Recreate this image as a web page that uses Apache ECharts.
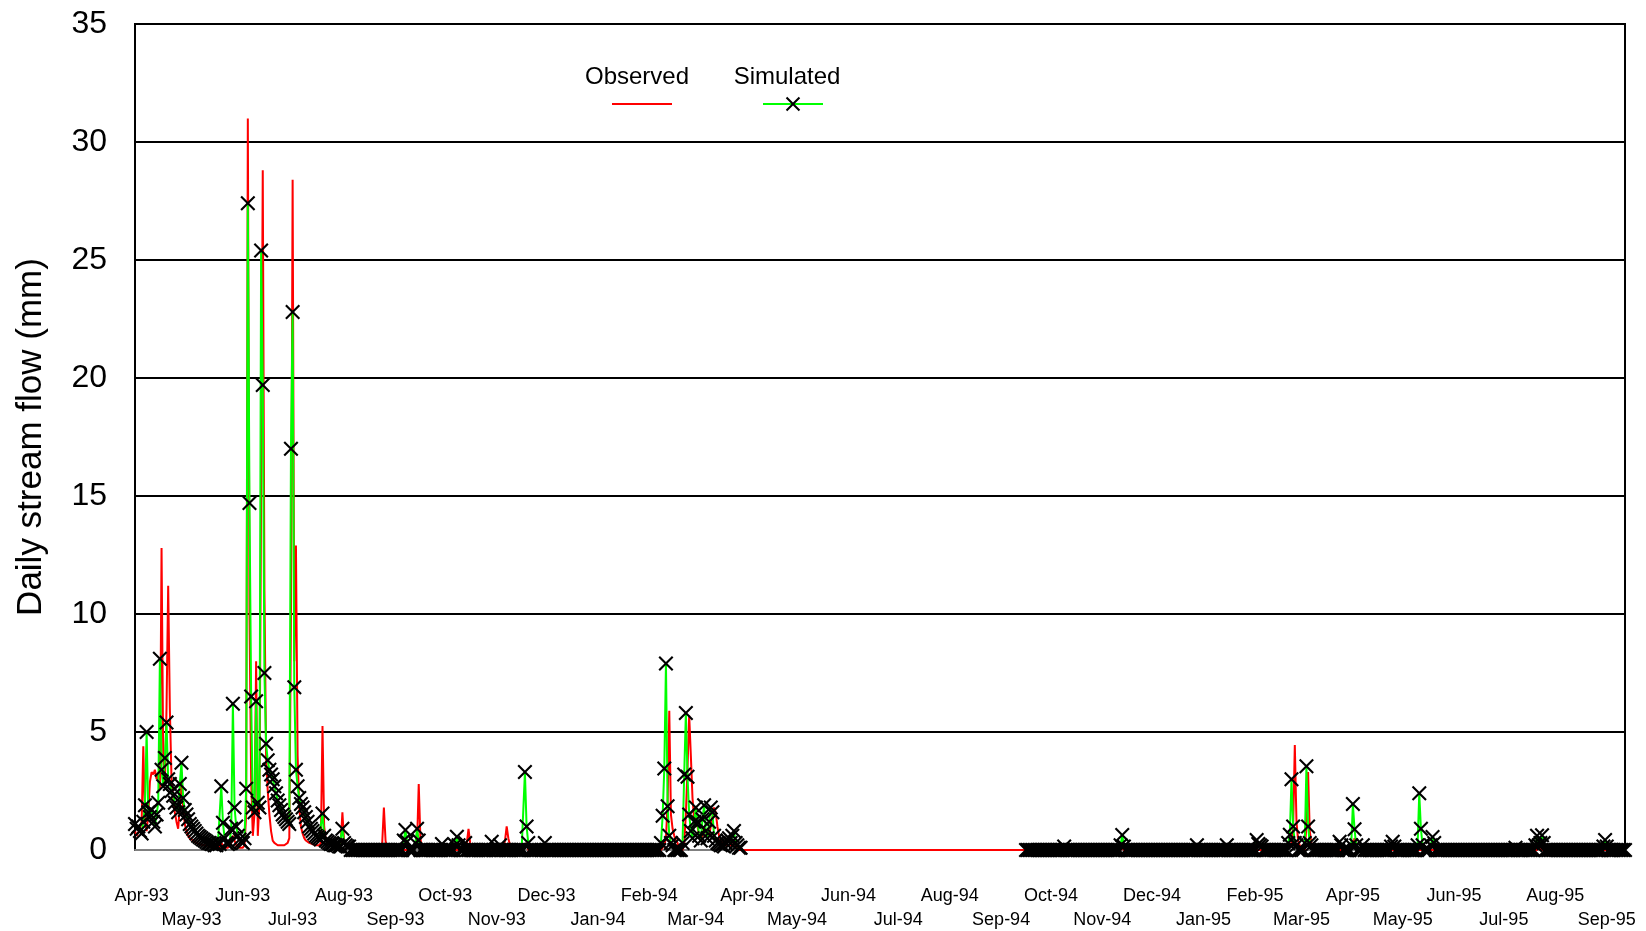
<!DOCTYPE html>
<html>
	<head>
		<meta http-equiv="Content-Type" content="text/html; charset=utf-8" />
		<title>Daily stream flow</title>
		<style>
			html, body { margin: 0; padding: 0; background: #fff; }
			#main { width: 1646px; height: 931px; }
		</style>
	</head>
	<body>
		<div id="main"></div>
		<script src="https://cdn.jsdelivr.net/npm/echarts/dist/echarts.min.js"></script>
		<script>
			//axis range (daily)
			var startDay = '1993-03-28';
			var endDay = '1995-09-12';
			var monthNames = ['Jan', 'Feb', 'Mar', 'Apr', 'May', 'Jun', 'Jul', 'Aug', 'Sep', 'Oct', 'Nov', 'Dec'];
			var yTicks = [0, 5, 10, 15, 20, 25, 30, 35];

			//days the model was run, outside of these there is no simulated value
			var simPeriods = [['1993-03-28', '1994-03-28'], ['1994-09-16', '1995-09-12']];

			//observed flow (mm), runs of daily values; days not listed read as 0
			var obsRuns = [
				['1993-03-28', [0.8, 0.6, 0.6, 0.9, 1.2, 4.4, 1.2, 0.8, 1.5, 2.9,
					3.3, 3.2, 3.4, 3.0, 3.2, 2.6, 12.8, 4.0, 2.8, 6.0,
					11.2, 6.0, 3.0, 2.2, 1.6, 1.2, 0.9, 1.8, 3.3, 1.8,
					1.1, 0.8, 0.6, 0.5, 0.45, 0.4, 0.35, 0.3, 0.3, 0.25,
					0.25, 0.2, 0.2, 0.2, 0.15, 0.15, 0.15, 0.1, 0.1, 0.1,
					0.1, 0.1, 0.3, 0.2, 0.1, 0.1, 0.1, 0.1, 0.3, 0.6,
					0.4, 0.2, 0.15, 0.1, 0.1, 0.1, 0.2, 1.5, 31.0, 10.0,
					3.0, 0.6, 1.5, 8.0, 0.6, 2.0, 15.0, 28.8, 11.0, 4.0,
					2.5, 1.5, 0.8, 0.4, 0.3, 0.25, 0.2, 0.2, 0.2, 0.2,
					0.2, 0.2, 0.3, 0.5, 10.0, 28.4, 8.0, 12.9, 4.0, 1.8,
					1.0, 0.7, 0.5, 0.4, 0.35, 0.3, 0.3, 0.25, 0.25, 0.2,
					0.2, 0.2, 0.3, 5.25, 1.0, 0.4, 0.3, 0.25, 0.2, 0.2,
					0.2, 0.15, 0.15, 0.15, 0.3, 1.6, 0.4, 0.2, 0.15, 0.1]],
				['1993-08-24', [0.3, 1.8, 0.4]],
				['1993-09-14', [0.3, 2.8, 0.5]],
				['1993-10-14', [0.3, 0.9, 0.3]],
				['1993-11-06', [0.4, 1.0, 0.5, 0.2]],
				['1993-11-18', [0.2, 0.3]],
				['1994-02-10', [0.2, 0.5, 2.0, 5.9, 1.5, 0.9, 0.6, 0.4, 0.3]],
				['1994-02-22', [0.3, 1.5, 3.5, 5.7, 4.0, 2.2, 1.3, 1.5, 1.0, 0.6,
					0.5, 0.6, 1.0, 0.8, 0.5, 0.6, 1.0, 1.4, 1.8, 1.6,
					1.0, 0.6, 0.4, 0.3, 0.25, 0.2, 0.2, 0.2, 0.2, 0.2,
					0.3, 0.2, 0.1]],
				['1994-11-13', [0.1]],
				['1995-02-21', [0.1, 0.1, 0.3, 1.0, 4.45, 1.2, 0.4, 0.2]],
				['1995-03-04', [1.0, 3.3, 0.8, 0.3]],
				['1995-04-01', [0.2, 0.5, 0.3]],
				['1995-07-22', [0.2]]
			];

			//simulated flow (mm), runs of daily values; other modelled days read as 0
			var simRuns = [
				['1993-03-28', [1.1, 0.9, 1.0, 0.8, 0.7, 1.2, 1.9, 5.0, 1.6, 1.4,
					1.7, 1.2, 1.0, 1.5, 2.0, 8.1, 3.4, 2.7, 3.9, 5.4,
					3.0, 2.8, 2.5, 2.3, 2.0, 1.8, 1.6, 2.8, 3.7, 2.2,
					1.7, 1.5, 1.3, 1.1, 1.0, 0.9, 0.8, 0.7, 0.6, 0.55,
					0.5, 0.45, 0.4, 0.35, 0.3, 0.3, 0.25, 0.25, 0.2, 0.2,
					0.3, 0.25, 2.7, 1.15, 0.5, 0.3, 0.25, 0.3, 0.9, 6.2,
					1.8, 1.0, 0.6, 0.45, 0.35, 0.3, 0.5, 2.6, 27.4, 14.7,
					6.5, 1.8, 1.6, 6.3, 2.0, 1.8, 25.4, 19.7, 7.5, 4.5,
					3.8, 3.4, 3.2, 3.0, 2.7, 2.4, 2.1, 1.9, 1.7, 1.5,
					1.4, 1.3, 1.2, 1.1, 17.0, 22.8, 6.9, 3.4, 2.7, 2.2,
					1.95, 1.8, 1.6, 1.4, 1.2, 1.0, 0.9, 0.8, 0.7, 0.6,
					0.55, 0.5, 0.45, 1.55, 0.6, 0.4, 0.35, 0.3, 0.25, 0.25,
					0.2, 0.2, 0.2, 0.15, 0.15, 0.9, 0.3, 0.2, 0.15, 0.15]],
				['1993-09-06', [0.4, 0.85, 0.35]],
				['1993-09-13', [0.3, 0.9, 0.4]],
				['1993-09-29', [0.25]],
				['1993-10-07', [0.2, 0.56, 0.2]],
				['1993-10-13', [0.3]],
				['1993-10-29', [0.35]],
				['1993-11-03', [0.2]],
				['1993-11-18', [3.3, 1.0, 0.3]],
				['1993-11-30', [0.3]],
				['1994-02-08', [0.3, 1.45, 3.45, 7.9, 1.85, 0.6, 0.3, 0.2]],
				['1994-02-21', [0.3, 3.2, 5.8, 3.1, 1.5, 0.8, 0.5, 1.2, 1.8, 1.2,
					0.6, 0.4, 1.3, 1.9, 0.8, 0.5, 1.2, 1.8, 1.6, 0.6,
					0.4, 0.3, 0.25, 0.2, 0.2, 0.15, 0.3, 0.4, 0.5, 0.3,
					0.6, 0.8, 0.3, 0.2, 0.1, 0.1]],
				['1994-10-09', [0.15]],
				['1994-11-12', [0.2, 0.64, 0.15]],
				['1994-12-28', [0.2]],
				['1995-01-15', [0.2]],
				['1995-02-02', [0.42, 0.25, 0.2, 0.15]],
				['1995-02-21', [0.3, 0.65, 3.0, 1.0, 0.3, 0.2]],
				['1995-03-03', [0.3, 3.55, 1.0, 0.3, 0.2]],
				['1995-03-24', [0.35, 0.2]],
				['1995-03-31', [0.2, 1.95, 0.88, 0.2]],
				['1995-04-07', [0.2]],
				['1995-04-24', [0.15, 0.35, 0.15]],
				['1995-05-10', [0.2, 2.4, 0.9, 0.2]],
				['1995-05-18', [0.2, 0.55, 0.3]],
				['1995-07-08', [0.1]],
				['1995-07-20', [0.2, 0.6, 0.2, 0.3, 0.63, 0.3]],
				['1995-08-30', [0.15, 0.42, 0.15]]
			];

			function dayIndex(s) {
				return Math.round((Date.parse(s) - Date.parse(startDay)) / 86400000);
			}

			//daily categories
			var days = [];
			for(var i = 0; i <= dayIndex(endDay); i++) {
				days.push(new Date(Date.parse(startDay) + i * 86400000).toISOString().slice(0, 10));
			}

			var observed = days.map(function() { return 0; });
			obsRuns.forEach(function(r) {
				var s = dayIndex(r[0]);
				r[1].forEach(function(v, k) { observed[s + k] = v; });
			});

			var simulated = days.map(function(d, i) {
				var inside = simPeriods.some(function(p) {
					return i >= dayIndex(p[0]) && i <= dayIndex(p[1]);
				});
				return inside ? 0 : null;
			});
			simRuns.forEach(function(r) {
				var s = dayIndex(r[0]);
				r[1].forEach(function(v, k) { simulated[s + k] = v; });
			});

			//month number counted from Apr-93, even months on the first label row
			function monthCount(value) {
				return (+value.slice(0, 4) - 1993) * 12 + (+value.slice(5, 7) - 4);
			}
			function monthLabel(value) {
				return monthNames[+value.slice(5, 7) - 1] + '-' + value.slice(2, 4);
			}
			function labelRow(row, margin) {
				return {
					fontSize: 18, margin: margin, color: '#000',
					showMinLabel: true, showMaxLabel: true,
					interval: function(index, value) {
						return value.slice(8) === '01' && monthCount(value) % 2 === row;
					},
					formatter: monthLabel
				};
			}

			var crossPath = 'path://M0,1L1,0L5,4L9,0L10,1L6,5L10,9L9,10L5,6L1,10L0,9L4,5Z';
			var fontName = 'Liberation Sans, Arial, sans-serif';

			var myChart = echarts.init(document.getElementById('main'));
			var option = {
				animation: false,
				backgroundColor: '#fff',
				textStyle: { fontFamily: fontName, color: '#000' },
				grid: {
					left: 135, right: 21, top: 24, bottom: 81,
					show: true, borderColor: '#000', borderWidth: 2
				},
				legend: [{
					data: [{ name: 'Observed', icon: 'rect' }], left: 612, top: 103, padding: 0,
					itemWidth: 60, itemHeight: 2, itemGap: 0,
					selectedMode: false, formatter: function() { return ''; },
					textStyle: { fontSize: 2, lineHeight: 2 }
				}, {
					data: ['Simulated'], left: 762, top: 95, padding: 0,
					itemWidth: 60, itemHeight: 18, itemGap: 0,
					selectedMode: false, formatter: function() { return ''; },
					textStyle: { fontSize: 8 }
				}],
				graphic: [{
					type: 'text', x: 637, y: 77,
					style: { text: 'Observed', fontSize: 24, fontFamily: fontName, fill: '#000', align: 'center', verticalAlign: 'middle' }
				}, {
					type: 'text', x: 787, y: 77,
					style: { text: 'Simulated', fontSize: 24, fontFamily: fontName, fill: '#000', align: 'center', verticalAlign: 'middle' }
				}],
				xAxis: [{
					type: 'category',
					data: days,
					boundaryGap: false,
					axisTick: { show: false },
					axisLine: { lineStyle: { color: '#808080', width: 2 } },
					splitLine: { show: false },
					axisLabel: labelRow(0, 37)
				}, {
					type: 'category',
					data: days,
					position: 'bottom',
					boundaryGap: false,
					axisTick: { show: false },
					axisLine: { show: false },
					splitLine: { show: false },
					axisLabel: labelRow(1, 61)
				}],
				yAxis: {
					type: 'value',
					min: yTicks[0], max: yTicks[yTicks.length - 1], interval: 5,
					name: 'Daily stream flow (mm)',
					nameLocation: 'middle', nameGap: 86,
					nameTextStyle: { fontSize: 35, color: '#000' },
					axisLine: { show: true, lineStyle: { color: '#000', width: 2 } },
					axisTick: { show: false },
					splitLine: { lineStyle: { color: '#000', width: 2 } },
					axisLabel: { fontSize: 32, margin: 28, color: '#000' }
				},
				series: [{
					name: 'Observed',
					type: 'line',
					data: observed,
					symbol: 'none',
					lineStyle: { color: '#ff0000', width: 2 },
					itemStyle: { color: '#ff0000' },
					emphasis: { disabled: true },
					z: 2
				}, {
					name: 'Simulated',
					type: 'line',
					data: simulated,
					symbol: crossPath,
					symbolSize: 15,
					showAllSymbol: true,
					connectNulls: false,
					lineStyle: { color: '#00ff00', width: 2 },
					itemStyle: { color: '#000' },
					emphasis: { disabled: true },
					z: 3
				}]
			};
			myChart.setOption(option);
		</script>
	</body>
</html>
